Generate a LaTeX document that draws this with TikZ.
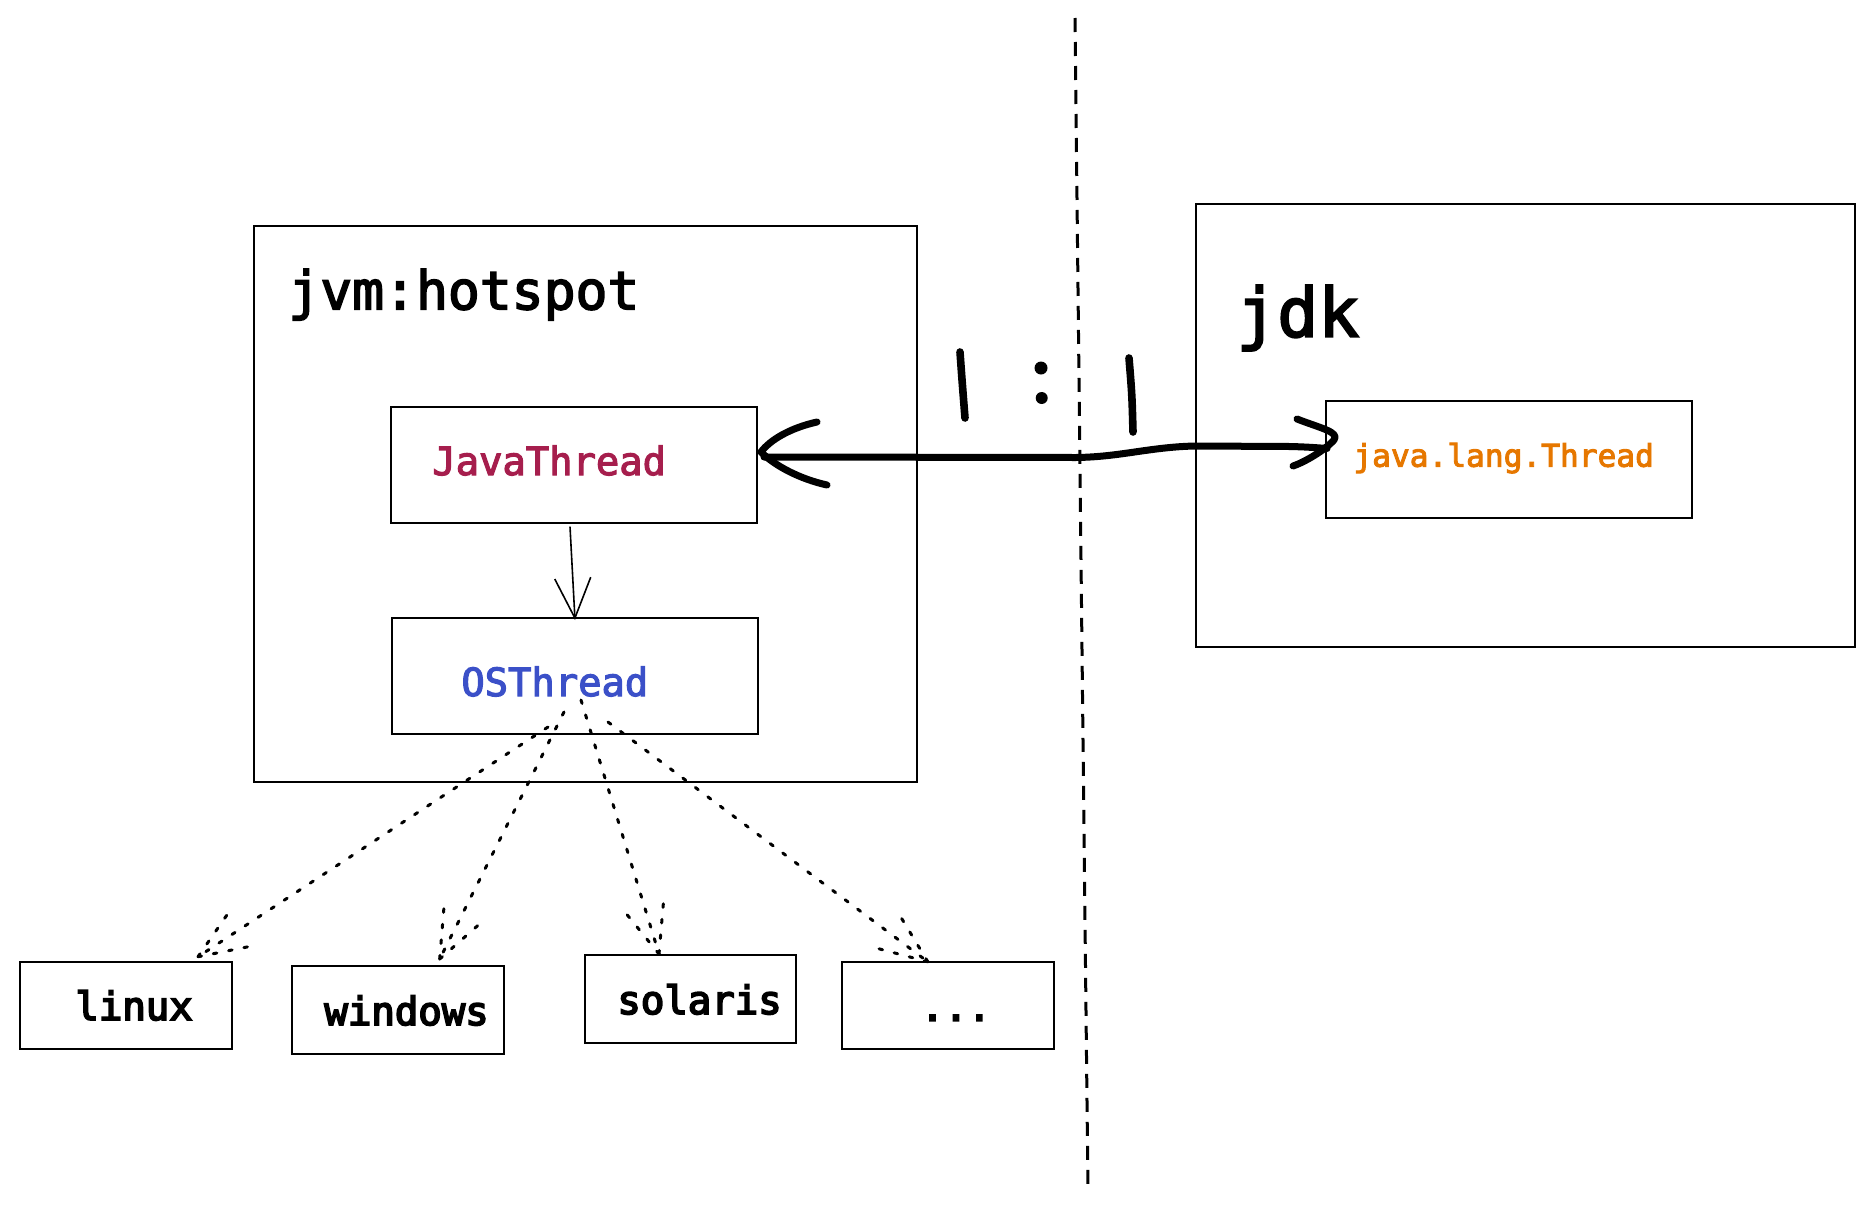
\documentclass[tikz,border=0pt]{standalone}
\usepackage{fontspec}
\setmonofont{DejaVu Sans Mono}
\newfontfamily\medmono[FakeBold=3]{DejaVu Sans Mono}
\newfontfamily\semimono[FakeBold=4.5]{DejaVu Sans Mono}
\usetikzlibrary{arrows.meta,calc}
\definecolor{jtred}{HTML}{A61E4D}
\definecolor{osblue}{HTML}{3B50C8}
\definecolor{jlorange}{HTML}{E67700}
\begin{document}
\begin{tikzpicture}[x=0.5pt,y=-0.5pt,
  box/.style={draw, line width=1pt, rectangle, inner sep=0pt},
  lbl/.style={anchor=base west, inner sep=0pt},
  dotline/.style={line width=1.5pt, line cap=round, dash pattern=on 1.8pt off 6pt},
  bigline/.style={line width=3.5pt, line cap=round, line join=round},
  sepline/.style={line width=1.5pt, dash pattern=on 7pt off 5pt}]
\useasboundingbox (0,0) rectangle (1875,1216);

% separator
\coordinate (septop) at (1075,18);
\coordinate (sepbot) at (1088,1192);
\draw[sepline] (septop) -- (sepbot);

% boxes
\node[box, minimum width=331.75pt, minimum height=278pt] (jvm) at (585.25,504) {};
\node[box, minimum width=183pt, minimum height=58pt] (javaT) at (574,464.6) {};
\node[box, minimum width=183pt, minimum height=58pt] (osT) at (575,676) {};
\node[box, minimum width=329.5pt, minimum height=221.2pt] (jdk) at (1525.5,425.5) {};
\node[box, minimum width=183pt, minimum height=58.5pt] (jlt) at (1509,459.5) {};
\node[box, minimum width=106pt, minimum height=43.65pt] (linux) at (126,1005.4) {};
\node[box, minimum width=106.15pt, minimum height=44pt] (windows) at (397.7,1010) {};
\node[box, minimum width=105.5pt, minimum height=44pt] (solaris) at (690.5,999) {};
\node[box, minimum width=106.2pt, minimum height=43.65pt] (others) at (947.8,1005.4) {};

% labels
\node[lbl, font=\medmono\fontsize{26.5pt}{30pt}\selectfont] (jvmlbl) at (288,309.3) {jvm:hotspot};
\node[lbl, font=\medmono\fontsize{34pt}{38pt}\selectfont] (jdklbl) at (1236,336.7) {jdk};
\node[lbl, text=jtred, font=\medmono\fontsize{19.4pt}{22pt}\selectfont] (javaTlbl) at (432,475) {JavaThread};
\node[lbl, text=osblue, font=\medmono\fontsize{19.4pt}{22pt}\selectfont] (osTlbl) at (461,696) {OSThread};
\node[lbl, text=jlorange, font=\medmono\fontsize{15.6pt}{18pt}\selectfont] (jltlbl) at (1353,466.7) {java.lang.Thread};
\node[lbl, font=\semimono\fontsize{19.5pt}{22pt}\selectfont] (linuxlbl) at (75,1020) {linux};
\node[lbl, font=\semimono\fontsize{19.5pt}{22pt}\selectfont] (windowslbl) at (324,1025) {windows};
\node[lbl, font=\semimono\fontsize{19.5pt}{22pt}\selectfont] (solarislbl) at (617,1014) {solaris};
\node[anchor=base, inner sep=0pt, font=\semimono\fontsize{19.5pt}{22pt}\selectfont] (otherslbl) at (956,1020.7) {...};

% JavaThread -> OSThread
\draw[line width=0.8pt, -{Straight Barb[length=20pt,width=18pt]}]
  ($(javaT.south)+(-4,3)$) -- ($(osT.north)+(0,3)$);

% big bidirectional arrow
\coordinate (bl) at ($(javaT.east)+(6,-7.6)$);
\coordinate (br) at ($(jlt.west)+(2,-11)$);
\draw[bigline] (bl) -- (1076,457.5) .. controls (1120,457) and (1150,447) .. (1195,446) -- (1290,446.5) .. controls (1310,447) and (1320,448) .. (br);
\draw[bigline] (817,422) .. controls (790,428) and (770,440) .. (761,452)
  .. controls (775,466) and (800,479) .. (827,485);
\draw[bigline] (1297,419) .. controls (1320,428) and (1340,432) .. (1334,440)
  .. controls (1325,450) and (1305,462) .. (1293,466);

% 1 : 1
\draw[line width=3.8pt, line cap=round] (960,352) .. controls (962,380) .. (965,418);
\fill (1041,368) circle (6.5);
\fill (1041.7,398) circle (6);
\draw[line width=3.8pt, line cap=round] (1129,358) .. controls (1132,395) .. (1133,432);

% dotted arrows from OSThread
\coordinate (s1) at ($(osT.center)+(-27,51)$);
\coordinate (s2) at ($(osT.center)+(-11,36)$);
\coordinate (s3) at ($(osT.center)+(6,24)$);
\coordinate (s4) at ($(osT.center)+(33,46)$);
\coordinate (t1) at ($(linux.north)+(72,-4)$);
\coordinate (t2) at ($(windows.north)+(42,-6)$);
\coordinate (t3) at ($(solaris.north)+(-31.5,0)$);
\coordinate (t4) at ($(others.north)+(-20,1)$);
\foreach \s/\t in {s1/t1,s2/t2,s3/t3,s4/t4}{
  \draw[dotline] (\s) -- (\t);
  \draw[dotline] (\t) -- ($(\t)!27pt!22:(\s)$);
  \draw[dotline] (\t) -- ($(\t)!27pt!-22:(\s)$);
}
\end{tikzpicture}
\end{document}
